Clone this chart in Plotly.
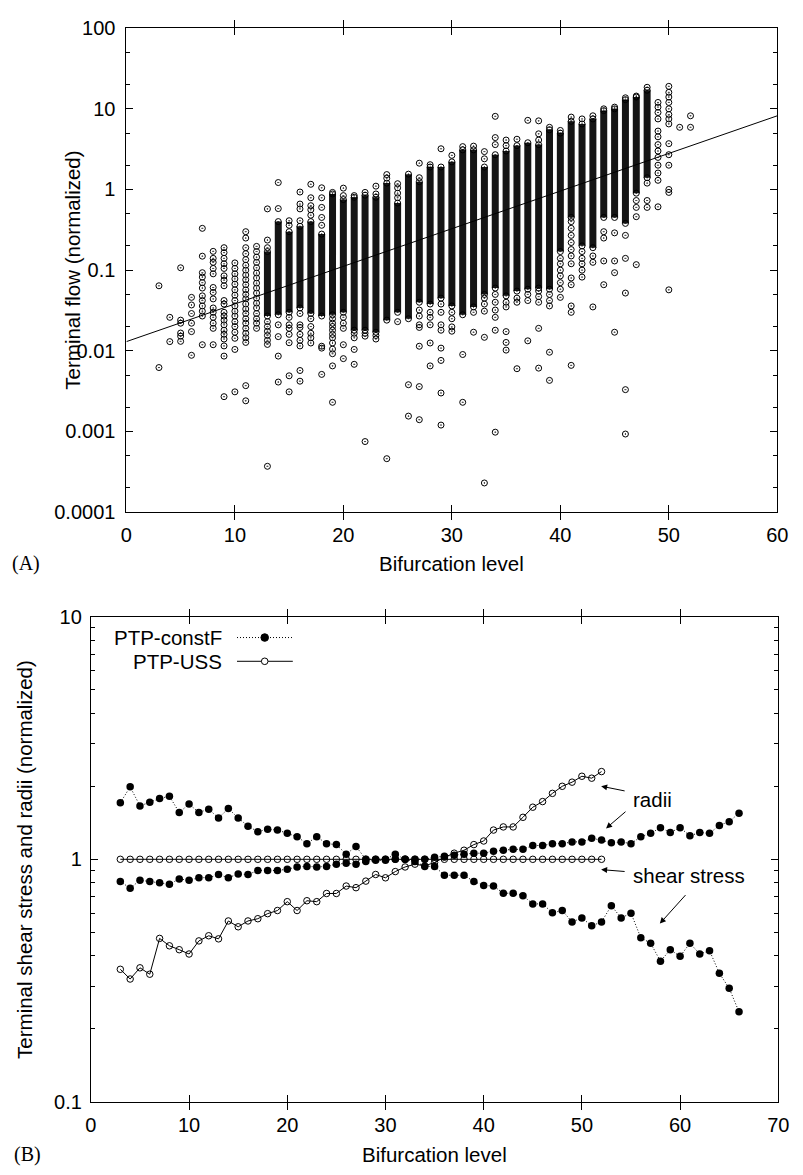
import plotly.graph_objects as go

W, H = 803, 1175

# ---------------- Panel A data: terminal flow vs bifurcation level ----------------
flow_levels = [3, 4, 5, 6, 7, 8, 9, 10, 11, 12, 13, 14, 15, 16, 17, 18, 19, 20, 21, 22,
               23, 24, 25, 26, 27, 28, 29, 30, 31, 32, 33, 34, 35, 36, 37, 38, 39, 40, 41, 42,
               43, 44, 45, 46, 47, 48, 49, 50, 51, 52]

# solid (heavily overlapped) part of each column
flow_dense_lo = [None, None, None, None, None, None, None, None, None, None,
                 0.027, 0.028, 0.030, 0.034, 0.029, 0.027, 0.028, 0.030, 0.018, 0.018,
                 0.017, 0.024, 0.030, 0.025, 0.040, 0.038, 0.045, 0.036, 0.028, 0.035,
                 0.050, 0.060, 0.048, 0.055, 0.058, 0.060, 0.058, 0.17, 0.45, 0.20,
                 0.19, 0.45, 0.45, 0.38, 0.90, 1.40, None, None, None, None]
flow_dense_hi = [None, None, None, None, None, None, None, None, None, None,
                 0.17, 0.40, 0.30, 0.35, 0.40, 0.28, 0.88, 0.75, 0.80, 0.85,
                 0.80, 1.20, 0.68, 1.55, 1.25, 1.90, 1.90, 2.20, 3.10, 3.10,
                 1.90, 2.70, 3.00, 3.50, 3.80, 3.60, 5.50, 5.0, 7.0, 6.5,
                 7.5, 9.5, 10.0, 13.0, 14.0, 17.0, None, None, None, None]

# individually visible terminals
flow_points = [
    [0.064, 0.0062],
    [0.026, 0.013],
    [0.107, 0.024, 0.022, 0.0166, 0.0152, 0.0131],
    [0.046, 0.037, 0.029, 0.022, 0.0173, 0.0088],
    [0.33, 0.149, 0.093, 0.082, 0.070, 0.060, 0.048, 0.042, 0.036, 0.031, 0.027, 0.0119],
    [0.171, 0.14, 0.125, 0.105, 0.090, 0.061, 0.053, 0.044, 0.034, 0.030, 0.026, 0.022, 0.019, 0.0119],
    [0.19, 0.165, 0.14, 0.12, 0.105, 0.085, 0.075, 0.064, 0.042, 0.038, 0.030, 0.027, 0.024,
     0.021, 0.018, 0.016, 0.014, 0.0115, 0.0086, 0.0027],
    [0.123, 0.105, 0.09, 0.078, 0.067, 0.057, 0.049, 0.042, 0.036, 0.031, 0.027, 0.023, 0.020,
     0.017, 0.0143, 0.0104, 0.0031],
    [0.30, 0.25, 0.19, 0.16, 0.135, 0.115, 0.10, 0.087, 0.076, 0.066, 0.057, 0.050, 0.044, 0.038,
     0.033, 0.029, 0.025, 0.022, 0.019, 0.0165, 0.0145, 0.0127, 0.0037, 0.0024],
    [0.197, 0.17, 0.145, 0.125, 0.107, 0.092, 0.080, 0.069, 0.060, 0.052, 0.045, 0.039, 0.034,
     0.029, 0.025, 0.022, 0.019],
    [0.575, 0.236, 0.19, 0.023, 0.020, 0.0175, 0.0155, 0.0135, 0.012, 0.00037],
    [1.22, 0.58, 0.021, 0.015, 0.0086, 0.0041],
    [0.41, 0.36, 0.026, 0.021, 0.019, 0.016, 0.0126, 0.0049, 0.0031],
    [0.93, 0.66, 0.575, 0.41, 0.029, 0.021, 0.0195, 0.016, 0.0135, 0.0115, 0.0057, 0.0042],
    [1.16, 0.79, 0.63, 0.56, 0.48, 0.025, 0.020, 0.0165, 0.0145, 0.0125],
    [1.05, 0.79, 0.60, 0.45, 0.36, 0.0114, 0.0108, 0.0051],
    [0.92, 0.025, 0.022, 0.020, 0.018, 0.016, 0.0145, 0.0125, 0.0105, 0.0092, 0.0065, 0.0023],
    [1.04, 0.84, 0.026, 0.022, 0.019, 0.0119, 0.0080],
    [0.84, 0.0165, 0.0145, 0.0104, 0.0068],
    [0.92, 0.0165, 0.0152, 0.00075],
    [1.10, 0.88, 0.0155, 0.0140],
    [1.53, 1.38, 0.00046],
    [1.18, 1.05, 0.90, 0.79, 0.023],
    [0.0038, 0.00155],
    [2.12, 1.40, 0.032, 0.027, 0.021, 0.0195, 0.0114, 0.0036, 0.0014],
    [2.03, 0.030, 0.026, 0.021, 0.0125, 0.0065],
    [3.2, 0.038, 0.030, 0.021, 0.018, 0.0108, 0.0076, 0.0030, 0.0012],
    [2.65, 0.030, 0.025, 0.0198, 0.0175],
    [3.4, 0.009, 0.0023],
    [3.45, 0.030, 0.017],
    [2.95, 2.40, 0.045, 0.038, 0.031, 0.0147, 0.00023],
    [8.07, 4.4, 3.6, 0.050, 0.040, 0.032, 0.026, 0.018, 0.00098],
    [4.1, 3.5, 0.040, 0.035, 0.0173, 0.0127, 0.0102],
    [4.2, 0.045, 0.040, 0.0060],
    [7.2, 0.050, 0.042, 0.0133],
    [7.1, 4.9, 4.1, 0.055, 0.047, 0.040, 0.019, 0.0061],
    [5.9, 0.050, 0.042, 0.036, 0.0096, 0.0043],
    [5.4, 0.14, 0.12, 0.10, 0.085, 0.070, 0.058, 0.046],
    [7.9, 0.40, 0.33, 0.27, 0.22, 0.18, 0.15, 0.12, 0.080, 0.066, 0.036, 0.030, 0.0066],
    [7.5, 0.17, 0.14, 0.12, 0.10, 0.082],
    [8.2, 0.15, 0.125, 0.035],
    [10.0, 0.30, 0.25, 0.13, 0.066],
    [10.5, 0.29, 0.13, 0.093, 0.017],
    [13.7, 0.27, 0.14, 0.052, 0.0033, 0.00093],
    [14.4, 0.73, 0.60, 0.46, 0.117],
    [18.5, 1.2, 0.73, 0.60],
    [12.0, 10.5, 9.0, 7.5, 5.3, 4.5, 3.6, 3.0, 2.5, 2.0, 1.6, 1.3, 0.61],
    [19.0, 16.0, 14.0, 12.0, 10.0, 8.5, 7.5, 6.5, 3.7, 2.7, 2.0, 1.0, 0.92, 0.057],
    [5.9],
    [8.2, 5.9],
]

# regression line end points
fit_x = [0, 60]
fit_y = [0.013, 8.2]

flow_yticks = [0.0001, 0.001, 0.01, 0.1, 1, 10, 100]
flow_yticktext = ["0.0001", "0.001", "0.01", "0.1", "1", "10", "100"]
flow_yminor = [0.0002, 0.0005, 0.002, 0.005, 0.02, 0.05, 0.2, 0.5, 2, 5, 20, 50]

# ---------------- Panel B data ----------------
levels_cf = [3, 4, 5, 6, 7, 8, 9, 10, 11, 12, 13, 14, 15, 16, 17, 18, 19, 20, 21, 22,
             23, 24, 25, 26, 27, 28, 29, 30, 31, 32, 33, 34, 35, 36, 37, 38, 39, 40, 41, 42,
             43, 44, 45, 46, 47, 48, 49, 50, 51, 52, 53, 54, 55, 56, 57, 58, 59, 60, 61, 62,
             63, 64, 65, 66]
shear_cf = [1.71, 1.99, 1.66, 1.72, 1.78, 1.82, 1.56, 1.69, 1.56, 1.61,
            1.48, 1.62, 1.48, 1.37, 1.30, 1.33, 1.32, 1.28, 1.24, 1.16,
            1.24, 1.16, 1.15, 1.05, 1.13, 1.00, 1.00, 1.00, 1.05, 1.00,
            0.98, 0.935, 0.935, 0.86, 0.86, 0.86, 0.81, 0.78, 0.776, 0.725,
            0.725, 0.708, 0.655, 0.655, 0.602, 0.615, 0.552, 0.573, 0.532, 0.552,
            0.644, 0.573, 0.60, 0.475, 0.451, 0.380, 0.424, 0.398, 0.451, 0.407,
            0.42, 0.339, 0.294, 0.235]
radii_cf = [0.81, 0.76, 0.82, 0.81, 0.80, 0.79, 0.83, 0.82, 0.84, 0.84,
            0.865, 0.84, 0.87, 0.865, 0.90, 0.90, 0.90, 0.91, 0.93, 0.935,
            0.93, 0.935, 0.955, 0.963, 0.955, 0.98, 0.99, 0.99, 1.0, 1.0,
            1.0, 1.0, 1.02, 1.03, 1.04, 1.05, 1.06, 1.06, 1.08, 1.09,
            1.10, 1.10, 1.14, 1.14, 1.16, 1.16, 1.18, 1.18, 1.22, 1.20,
            1.17, 1.18, 1.16, 1.24, 1.28, 1.35, 1.29, 1.35, 1.25, 1.29,
            1.28, 1.38, 1.43, 1.55]

levels_uss = [3, 4, 5, 6, 7, 8, 9, 10, 11, 12, 13, 14, 15, 16, 17, 18, 19, 20, 21, 22,
              23, 24, 25, 26, 27, 28, 29, 30, 31, 32, 33, 34, 35, 36, 37, 38, 39, 40, 41, 42,
              43, 44, 45, 46, 47, 48, 49, 50, 51, 52]
shear_uss = [1.0, 1.0, 1.0, 1.0, 1.0, 1.0, 1.0, 1.0, 1.0, 1.0,
             1.0, 1.0, 1.0, 1.0, 1.0, 1.0, 1.0, 1.0, 1.0, 1.0,
             1.0, 1.0, 1.0, 1.0, 1.0, 1.0, 1.0, 1.0, 1.0, 1.0,
             1.0, 1.0, 1.0, 1.0, 1.0, 1.0, 1.0, 1.0, 1.0, 1.0,
             1.0, 1.0, 1.0, 1.0, 1.0, 1.0, 1.0, 1.0, 1.0, 1.0]
radii_uss = [0.352, 0.321, 0.357, 0.336, 0.472, 0.44, 0.424, 0.407, 0.461, 0.484,
             0.47, 0.557, 0.527, 0.557, 0.569, 0.597, 0.615, 0.669, 0.615, 0.675,
             0.669, 0.723, 0.723, 0.776, 0.764, 0.813, 0.866, 0.839, 0.89, 0.93,
             0.955, 0.94, 0.97, 1.02, 1.06, 1.09, 1.15, 1.19, 1.32, 1.36,
             1.36, 1.49, 1.64, 1.73, 1.87, 2.0, 2.08, 2.20, 2.16, 2.30]

b_yticks = [0.1, 1, 10]
b_yticktext = ["0.1", "1", "10"]
b_yminor = [0.2, 0.3, 0.4, 0.5, 0.6, 0.7, 0.8, 0.9, 2, 3, 4, 5, 6, 7, 8, 9]

FONT = "Liberation Sans, Arial, Helvetica, sans-serif"
SERIF = "Liberation Serif, Times New Roman, serif"

fig = go.Figure()

seg_x, seg_y = [], []
pt_x, pt_y = [], []
for lvl, lo, hi, pts in zip(flow_levels, flow_dense_lo, flow_dense_hi, flow_points):
    if lo is not None:
        seg_x += [lvl, lvl, None]
        seg_y += [lo, hi, None]
        pt_x += [lvl, lvl]
        pt_y += [lo, hi]
    pt_x += [lvl] * len(pts)
    pt_y += pts

fig.add_trace(go.Scatter(x=seg_x, y=seg_y, mode="lines", xaxis="x", yaxis="y",
                         line=dict(color="#151515", width=7), hoverinfo="skip", showlegend=False))
fig.add_trace(go.Scatter(x=pt_x, y=pt_y, mode="markers", xaxis="x", yaxis="y",
                         marker=dict(symbol="circle-open-dot", size=6, color="black",
                                     line=dict(width=1, color="black")),
                         showlegend=False))
fig.add_trace(go.Scatter(x=fit_x, y=fit_y, mode="lines", xaxis="x", yaxis="y",
                         line=dict(color="black", width=1), showlegend=False))

DOT = "1px,2px"
fig.add_trace(go.Scatter(x=levels_cf, y=shear_cf, mode="lines+markers", xaxis="x2", yaxis="y2",
                         line=dict(color="black", width=1, dash=DOT),
                         marker=dict(symbol="circle", size=7.5, color="black"), showlegend=False))
fig.add_trace(go.Scatter(x=levels_cf, y=radii_cf, mode="lines+markers", xaxis="x2", yaxis="y2",
                         line=dict(color="black", width=1, dash=DOT),
                         marker=dict(symbol="circle", size=7.5, color="black"), showlegend=False))
fig.add_trace(go.Scatter(x=levels_uss, y=shear_uss, mode="lines+markers", xaxis="x2", yaxis="y2",
                         line=dict(color="black", width=1),
                         marker=dict(symbol="circle-open", size=6.5, color="black",
                                     line=dict(width=1, color="black")), showlegend=False))
fig.add_trace(go.Scatter(x=levels_uss, y=radii_uss, mode="lines+markers", xaxis="x2", yaxis="y2",
                         line=dict(color="black", width=1),
                         marker=dict(symbol="circle-open", size=6.5, color="black",
                                     line=dict(width=1, color="black")), showlegend=False))

# invisible traces so the right-hand mirror axes are drawn
fig.add_trace(go.Scatter(x=[None], y=[None], xaxis="x", yaxis="y3", showlegend=False, hoverinfo="skip"))
fig.add_trace(go.Scatter(x=[None], y=[None], xaxis="x2", yaxis="y4", showlegend=False, hoverinfo="skip"))

axis_common = dict(showline=True, linecolor="black", linewidth=1, mirror="allticks",
                   ticks="inside", ticklen=7, tickwidth=1, tickcolor="black",
                   showgrid=False, zeroline=False,
                   tickfont=dict(family=FONT, size=20, color="black"))
right_common = dict(showline=False, ticks="inside", ticklen=7, tickwidth=1, tickcolor="black",
                    showgrid=False, zeroline=False, showticklabels=False, side="right")

topY = [1 - 510.7 / H, 1 - 17.5 / H]
botY = [1 - 1111.7 / H, 1 - 617.3 / H]

fig.update_layout(
    width=W, height=H,
    margin=dict(l=0, r=0, t=0, b=0),
    paper_bgcolor="white", plot_bgcolor="white",
    showlegend=False,
    xaxis=dict(domain=[123 / W, 788 / W], range=[0, 60], anchor="y",
               tickvals=[0, 10, 20, 30, 40, 50, 60], ticklabelstandoff=5, **axis_common),
    yaxis=dict(domain=topY, type="log", range=[-4, 2], anchor="x",
               tickvals=flow_yticks, ticktext=flow_yticktext, ticklabelstandoff=6,
               minor=dict(tickvals=flow_yminor, ticks="inside", ticklen=4, tickcolor="black"),
               **axis_common),
    yaxis3=dict(domain=topY, type="log", range=[-4, 2], anchor="x", overlaying="y",
                tickvals=flow_yticks,
                minor=dict(tickvals=flow_yminor, ticks="inside", ticklen=4, tickcolor="black"),
                **right_common),
    xaxis2=dict(domain=[86.7 / W, 789 / W], range=[0, 70], anchor="y2",
                tickvals=[0, 10, 20, 30, 40, 50, 60, 70], ticklabelstandoff=5, **axis_common),
    yaxis2=dict(domain=botY, type="log", range=[-1, 1], anchor="x2",
                tickvals=b_yticks, ticktext=b_yticktext, ticklabelstandoff=4,
                minor=dict(tickvals=b_yminor, ticks="inside", ticklen=4, tickcolor="black"),
                **axis_common),
    yaxis4=dict(domain=botY, type="log", range=[-1, 1], anchor="x2", overlaying="y2",
                tickvals=b_yticks,
                minor=dict(tickvals=b_yminor, ticks="inside", ticklen=4, tickcolor="black"),
                **right_common),
)

ann = []
def txt(text, xpx, ypx, size=20.5, xanchor="center", yanchor="middle", angle=0, family=FONT):
    ann.append(dict(text=text, x=xpx / W, y=1 - ypx / H, xref="paper", yref="paper",
                    showarrow=False, xanchor=xanchor, yanchor=yanchor, textangle=angle,
                    font=dict(family=family, size=size, color="black")))

txt("Bifurcation level", 455.5, 563)
txt("Terminal flow (normalized)", 67, 264, angle=-90)
txt("(A)", 4, 563, size=20, xanchor="left", family=SERIF)
txt("Bifurcation level", 438, 1165)
txt("Terminal shear stress and radii (normalized)", 19, 864.5, angle=-90)
txt("(B)", 6, 1165, size=20, xanchor="left", family=SERIF)
txt("radii", 639, 803.5, xanchor="left")
txt("shear stress", 639, 881.5, xanchor="left")
txt("PTP-constF", 223, 638.5, xanchor="right")
txt("PTP-USS", 223, 662.7, xanchor="right")

def arrow(hx, hy, tx, ty):
    ann.append(dict(text="", x=hx / W, y=1 - hy / H, xref="paper", yref="paper",
                    ax=tx - hx, ay=ty - hy, axref="pixel", ayref="pixel",
                    showarrow=True, arrowhead=2, arrowsize=1.2, arrowwidth=1, arrowcolor="black"))

arrow(608, 790, 633, 795)
arrow(613, 833, 634, 815)
arrow(608, 875, 633, 877)
arrow(668, 930, 695, 900)

fig.update_layout(annotations=ann)

shapes = []
shapes.append(dict(type="line", xref="paper", yref="paper", x0=236 / W, x1=293 / W,
                   y0=1 - 638.5 / H, y1=1 - 638.5 / H, line=dict(color="black", width=1, dash=DOT)))
shapes.append(dict(type="line", xref="paper", yref="paper", x0=236 / W, x1=293 / W,
                   y0=1 - 662.7 / H, y1=1 - 662.7 / H, line=dict(color="black", width=1)))
shapes.append(dict(type="circle", xref="paper", yref="paper", xsizemode="pixel", ysizemode="pixel",
                   xanchor=264.3 / W, yanchor=1 - 638.5 / H, x0=-3.8, x1=3.8, y0=-3.8, y1=3.8,
                   fillcolor="black", line=dict(color="black", width=1)))
shapes.append(dict(type="circle", xref="paper", yref="paper", xsizemode="pixel", ysizemode="pixel",
                   xanchor=264.3 / W, yanchor=1 - 662.7 / H, x0=-3.3, x1=3.3, y0=-3.3, y1=3.3,
                   fillcolor="white", line=dict(color="black", width=1)))
fig.update_layout(shapes=shapes)

fig.write_html("out.html")
